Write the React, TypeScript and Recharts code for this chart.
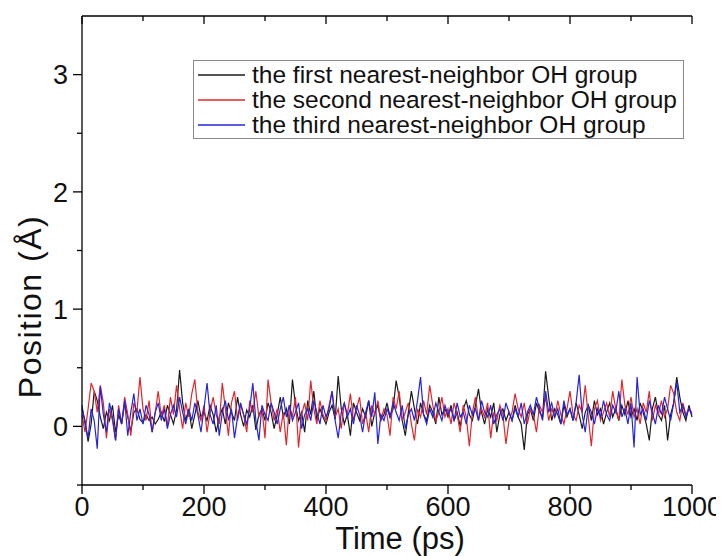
import { LineChart, Line, XAxis, YAxis, Legend, Label } from "recharts";

// sampling time step (ps) of the trajectory
const STEP = 5;

// the first nearest-neighbor OH group (Å), one value every 5 ps from 0 to 1000
const first = [
  0.15, 0.05, -0.13, 0.02, 0.30, 0.22, 0.08, -0.02, 0.12, 0.05, 0.18, -0.05, 0.10, 0.02, 0.20, 0.08, -0.04, 0.12, 0.15, 0.06,
  0.03, 0.10, 0.05, 0.08, 0.02, 0.06, 0.12, 0.04, 0.18, 0.10, 0.02, 0.14, 0.48, 0.20, 0.05, 0.15, -0.02, 0.10, 0.22, 0.08,
  0.12, 0.05, 0.18, 0.10, -0.05, 0.08, 0.15, 0.02, 0.20, 0.12, 0.05, 0.25, 0.10, 0.00, 0.14, 0.08, 0.18, -0.03, 0.10, 0.15,
  0.05, 0.20, 0.12, -0.02, 0.10, 0.25, 0.08, 0.15, 0.02, 0.40, 0.18, 0.05, 0.12, -0.05, 0.22, 0.10, 0.30, 0.05, 0.15, 0.08,
  0.02, 0.12, 0.18, 0.06, 0.43, 0.15, 0.02, 0.10, -0.08, 0.20, 0.12, 0.05, 0.15, 0.08, 0.22, 0.00, 0.12, 0.18, 0.05, 0.10,
  0.20, 0.08, 0.15, 0.39, 0.25, 0.05, -0.08, 0.12, 0.30, 0.15, 0.02, 0.20, 0.10, 0.05, 0.18, 0.12, 0.02, 0.25, 0.10, 0.15,
  0.08, 0.18, 0.05, 0.12, 0.00, 0.15, 0.22, 0.10, 0.05, 0.18, 0.32, 0.12, 0.02, 0.15, 0.08, 0.20, -0.05, 0.10, 0.15, 0.05,
  0.12, 0.05, 0.18, 0.08, 0.02, -0.20, 0.10, 0.15, 0.05, 0.20, 0.12, 0.08, 0.47, 0.25, 0.05, 0.15, 0.10, 0.02, 0.18, 0.08,
  0.15, 0.05, 0.20, 0.10, -0.02, 0.12, 0.18, 0.05, 0.22, 0.10, 0.15, 0.02, 0.12, 0.20, 0.08, 0.15, 0.05, 0.18, 0.10, 0.22,
  0.08, 0.15, 0.05, 0.20, 0.12, 0.02, -0.12, 0.15, 0.25, 0.10, 0.05, 0.18, -0.12, 0.10, 0.20, 0.42, 0.25, 0.12, 0.05, 0.18,
  0.08,
];

// the second nearest-neighbor OH group
const second = [
  0.10, -0.05, 0.15, 0.37, 0.30, 0.12, 0.35, 0.20, -0.10, 0.15, 0.05, -0.12, 0.18, 0.02, 0.25, 0.10, -0.08, 0.20, 0.12, 0.42,
  0.15, 0.05, 0.22, -0.05, 0.12, 0.30, 0.08, 0.18, 0.00, 0.25, 0.10, 0.35, 0.15, -0.02, 0.20, 0.08, 0.28, 0.40, 0.12, 0.05,
  0.18, -0.05, 0.12, 0.25, 0.10, 0.02, 0.37, 0.15, -0.08, 0.20, 0.30, 0.05, 0.18, 0.10, -0.05, 0.22, 0.12, 0.30, 0.08, 0.15,
  -0.10, 0.40, 0.20, 0.05, 0.15, -0.05, 0.12, -0.16, 0.18, 0.08, 0.25, -0.18, 0.10, 0.20, 0.05, 0.39, 0.15, 0.02, 0.22, 0.10,
  0.05, 0.18, 0.30, 0.08, 0.15, -0.02, 0.20, 0.10, 0.28, 0.05, 0.15, 0.25, 0.02, 0.12, -0.05, 0.18, 0.10, 0.22, 0.05, 0.15,
  0.10, -0.08, 0.25, 0.15, 0.30, 0.05, 0.12, 0.20, 0.02, -0.12, 0.15, 0.08, 0.22, 0.10, 0.35, 0.18, 0.05, 0.12, 0.25, 0.08,
  0.15, 0.02, 0.20, 0.10, -0.05, 0.18, 0.08, -0.17, 0.12, 0.25, 0.05, 0.15, 0.08, 0.20, -0.10, 0.12, 0.05, 0.18, 0.10, -0.15,
  0.05, 0.12, 0.28, 0.15, 0.08, 0.20, 0.02, 0.15, 0.10, -0.05, 0.18, 0.12, 0.25, 0.05, 0.15, 0.08, 0.22, 0.10, 0.02, 0.15,
  0.30, 0.10, 0.05, 0.18, 0.12, 0.35, 0.08, -0.17, 0.15, 0.22, 0.05, 0.12, 0.20, 0.08, 0.30, 0.15, 0.05, 0.40, 0.18, 0.10,
  0.25, 0.08, 0.15, 0.02, 0.20, 0.12, 0.30, 0.05, 0.18, 0.10, 0.22, 0.08, 0.15, 0.35, 0.28, 0.12, 0.05, 0.20, 0.10, 0.15,
  0.12,
];

// the third nearest-neighbor OH group
const third = [
  0.18, 0.02, -0.10, 0.15, 0.05, -0.19, 0.34, 0.10, -0.05, 0.20, 0.08, -0.12, 0.15, 0.02, 0.22, -0.08, 0.12, 0.28, 0.05, 0.15,
  0.02, 0.18, 0.10, -0.05, 0.12, 0.20, 0.05, 0.15, -0.02, 0.10, 0.18, 0.08, 0.25, 0.12, 0.02, 0.15, 0.05, 0.20, 0.10, -0.05,
  0.15, 0.37, 0.10, 0.02, 0.18, -0.08, 0.12, 0.22, 0.05, 0.15, -0.10, 0.08, 0.20, 0.10, 0.02, 0.15, 0.37, 0.05, -0.12, 0.18,
  0.10, 0.05, 0.20, 0.12, 0.02, 0.15, 0.25, 0.08, 0.18, 0.05, 0.12, 0.20, -0.02, 0.10, 0.15, 0.05, 0.22, 0.12, 0.02, 0.18,
  0.08, 0.15, 0.30, 0.05, -0.10, 0.12, 0.20, 0.08, 0.15, 0.02, 0.18, 0.10, -0.05, 0.12, 0.22, 0.08, 0.29, -0.15, 0.10, 0.05,
  0.15, 0.08, 0.20, 0.12, 0.05, 0.18, -0.02, 0.10, 0.15, 0.05, 0.22, 0.42, 0.10, 0.02, 0.15, 0.08, 0.20, 0.12, 0.05, 0.18,
  0.10, 0.15, 0.05, 0.20, 0.08, 0.12, 0.02, 0.18, 0.10, 0.15, 0.05, 0.22, 0.12, 0.08, 0.18, 0.02, 0.10, 0.15, 0.05, 0.20,
  0.12, 0.05, 0.15, 0.08, 0.20, 0.02, 0.12, 0.18, 0.10, 0.25, 0.15, 0.05, 0.30, 0.12, 0.20, 0.08, 0.15, 0.02, 0.22, 0.10,
  0.15, 0.05, 0.20, 0.44, 0.10, -0.05, 0.18, 0.12, 0.02, 0.15, 0.08, 0.22, 0.10, 0.05, 0.18, 0.12, 0.30, 0.08, 0.15, 0.02,
  0.20, -0.18, 0.42, 0.10, 0.15, 0.05, 0.22, 0.12, 0.02, 0.18, 0.10, 0.25, 0.15, 0.05, 0.20, 0.38, 0.12, 0.18, 0.08, 0.15,
  0.10,
];

const xTicks = [0, 100, 200, 300, 400, 500, 600, 700, 800, 900, 1000];
const yTicks = [-0.5, 0, 0.5, 1, 1.5, 2, 2.5, 3];

const seriesNames = [
  "the first nearest-neighbor OH group",
  "the second nearest-neighbor OH group",
  "the third nearest-neighbor OH group",
];
const seriesColors = ["#1a1a1a", "#e0262b", "#2424dc"];

const data = first.map((v, i) => ({
  t: i * STEP,
  first: v,
  second: second[i],
  third: third[i],
}));

const FONT = "'Liberation Sans', Arial, sans-serif";

// bottom axis: ticks pointing out, labels on every 200
const XBottomTick = (props: any) => {
  const { x, y, payload } = props;
  const major = payload.value % 200 === 0;
  return (
    <g>
      <line x1={x} x2={x} y1={y} y2={y + (major ? 9 : 5)} stroke="#000" strokeWidth={1.3} />
      {major && (
        <text x={x} y={y + 31} textAnchor="middle" fontSize={27} fontFamily={FONT} fill="#111">
          {payload.value}
        </text>
      )}
    </g>
  );
};

// top axis: mirrored ticks pointing in
const XTopTick = (props: any) => {
  const { x, y, payload } = props;
  const major = payload.value % 200 === 0;
  return <line x1={x} x2={x} y1={y} y2={y + (major ? 8 : 5)} stroke="#000" strokeWidth={1.3} />;
};

const YLeftTick = (props: any) => {
  const { x, y, payload } = props;
  const major = Number.isInteger(payload.value);
  return (
    <g>
      <line x1={x} x2={x - (major ? 9 : 5)} y1={y} y2={y} stroke="#000" strokeWidth={1.3} />
      {major && (
        <text x={x - 14} y={y} dy="0.36em" textAnchor="end" fontSize={27} fontFamily={FONT} fill="#111">
          {payload.value}
        </text>
      )}
    </g>
  );
};

const YRightTick = (props: any) => {
  const { x, y, payload } = props;
  const major = Number.isInteger(payload.value);
  return <line x1={x} x2={x - (major ? 8 : 5)} y1={y} y2={y} stroke="#000" strokeWidth={1.3} />;
};

const LegendBox = (props: any) => {
  const { payload } = props;
  return (
    <div
      style={{
        display: "inline-block",
        border: "1px solid #8a8a8a",
        padding: "1px 6px 1px 4px",
        fontFamily: FONT,
        background: "#fff",
        textAlign: "left",
      }}
    >
      {(payload || []).map((p: any) => (
        <div key={p.value} style={{ display: "flex", alignItems: "center", height: 25 }}>
          <svg width={47} height={4} style={{ flexShrink: 0 }}>
            <line x1={0} x2={47} y1={2} y2={2} stroke={p.color} strokeWidth={1.3} />
          </svg>
          <span style={{ marginLeft: 7, fontSize: 24.5, color: "#111", whiteSpace: "nowrap" }}>{p.value}</span>
        </div>
      ))}
    </div>
  );
};

export default function App() {
  return (
    <div style={{ fontFamily: FONT }}>
      <LineChart width={716} height={548} data={data} margin={{ top: 7, right: 32, bottom: 6, left: 0 }}>
        <XAxis
          xAxisId="b"
          dataKey="t"
          type="number"
          domain={[0, 1000]}
          ticks={xTicks}
          interval={0}
          tickSize={0}
          tickMargin={0}
          tickLine={false}
          tick={<XBottomTick />}
          axisLine={{ stroke: "#000", strokeWidth: 1.3 }}
          height={65}
        >
          <Label
            content={(p: any) => {
              const vb = p.viewBox;
              return (
                <text x={vb.x + vb.width / 2 + 13} y={vb.y + 64} textAnchor="middle" fontSize={31} fontFamily={FONT} fill="#111">
                  Time (ps)
                </text>
              );
            }}
          />
        </XAxis>
        <XAxis
          xAxisId="t"
          orientation="top"
          dataKey="t"
          type="number"
          domain={[0, 1000]}
          allowDataOverflow
          ticks={xTicks}
          interval={0}
          tickSize={0}
          tickMargin={0}
          tickLine={false}
          tick={<XTopTick />}
          axisLine={{ stroke: "#000", strokeWidth: 1.3 }}
          height={1}
        />
        <YAxis
          yAxisId="l"
          type="number"
          domain={[-0.5, 3.5]}
          allowDataOverflow
          ticks={yTicks}
          interval={0}
          tickSize={0}
          tickMargin={0}
          tickLine={false}
          tick={<YLeftTick />}
          axisLine={{ stroke: "#000", strokeWidth: 1.3 }}
          width={74}
        >
          <Label
            content={(p: any) => {
              const vb = p.viewBox;
              const cx = vb.x + 22;
              const cy = vb.y + vb.height / 2 + 56;
              return (
                <text
                  x={cx}
                  y={cy}
                  transform={`rotate(-90, ${cx}, ${cy})`}
                  textAnchor="middle"
                  dominantBaseline="central"
                  fontSize={32}
                  letterSpacing={1.5}
                  fontFamily={FONT}
                  fill="#111"
                >
                  Position (Å)
                </text>
              );
            }}
          />
        </YAxis>
        <YAxis
          yAxisId="r"
          orientation="right"
          type="number"
          domain={[-0.5, 3.5]}
          allowDataOverflow
          ticks={yTicks}
          interval={0}
          tickSize={0}
          tickMargin={0}
          tickLine={false}
          tick={<YRightTick />}
          axisLine={{ stroke: "#000", strokeWidth: 1.3 }}
          width={0}
        />
        <Legend
          layout="vertical"
          align="center"
          verticalAlign="middle"
          content={<LegendBox />}
          wrapperStyle={{ left: 185, top: 52, width: "auto", height: "auto", textAlign: "left" }}
        />
        <Line xAxisId="b" yAxisId="l" type="linear" dataKey="first" name={seriesNames[0]} stroke={seriesColors[0]} strokeWidth={1.2} dot={false} isAnimationActive={false} />
        <Line xAxisId="b" yAxisId="l" type="linear" dataKey="second" name={seriesNames[1]} stroke={seriesColors[1]} strokeWidth={1.2} dot={false} isAnimationActive={false} />
        <Line xAxisId="b" yAxisId="l" type="linear" dataKey="third" name={seriesNames[2]} stroke={seriesColors[2]} strokeWidth={1.2} dot={false} isAnimationActive={false} />
      </LineChart>
    </div>
  );
}
